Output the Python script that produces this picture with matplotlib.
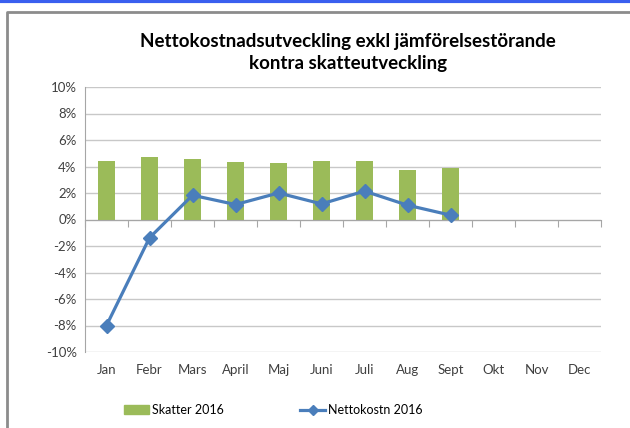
import matplotlib
matplotlib.use("Agg")
import matplotlib.pyplot as plt
from matplotlib.lines import Line2D
from matplotlib.patches import Patch
import matplotlib.transforms as mtransforms
import numpy as np

plt.rcParams['font.family'] = ['Lato', 'DejaVu Sans']

months = ['Jan', 'Febr', 'Mars', 'April', 'Maj', 'Juni', 'Juli', 'Aug', 'Sept', 'Okt', 'Nov', 'Dec']
skatter = [4.4, 4.68, 4.53, 4.33, 4.28, 4.4, 4.4, 3.7, 3.9]
nettokostn = [-8.0, -1.38, 1.83, 1.13, 2.0, 1.18, 2.14, 1.08, 0.33]
yticks = list(range(-10, 11, 2))

fig = plt.figure(figsize=(6.3, 4.28), dpi=100)

# outer frame like the screenshot
fig.add_artist(Line2D([0, 1], [0.997, 0.997], color='#3a5fef', lw=3, transform=fig.transFigure))
fig.add_artist(Line2D([6.5/630, 6.5/630, 1], [0, 1 - 11.5/428, 1 - 11.5/428],
                      color='#8c8c8c', lw=2, transform=fig.transFigure))

ax = fig.add_axes([85/630, 1 - 352/428, 516/630, 265/428])

x = np.arange(len(skatter))
ax.bar(x, skatter, width=0.4, color='#9bbb59', zorder=2)
ax.plot(np.arange(len(nettokostn)), nettokostn, color='#4a7ebb', lw=2.3,
        marker='D', markersize=7, zorder=3)

ax.set_xlim(-0.5, len(months) - 0.5)
ax.set_ylim(-10, 10)
ax.set_yticks(yticks)
ax.set_yticklabels([f'{v}%' for v in yticks], fontsize=9.5, color='#404040')
ax.tick_params(axis='y', length=0, pad=6)
ax.yaxis.grid(True, color='#c8c8c8', lw=1)
ax.set_axisbelow(True)

for s in ['top', 'right']:
    ax.spines[s].set_visible(False)
ax.spines['left'].set_color('#a6a6a6')
ax.spines['bottom'].set_position(('data', 0))
ax.spines['bottom'].set_color('#a6a6a6')

ax.set_xticks(np.arange(-0.5, len(months), 1.0))
ax.set_xticklabels([])
ax.tick_params(axis='x', direction='out', length=5, color='#a6a6a6')

trans = mtransforms.blended_transform_factory(ax.transData, fig.transFigure)
for i, m in enumerate(months):
    ax.text(i, 1 - 370/428, m, transform=trans, ha='center', va='center',
            fontsize=9.5, color='#404040')

fig.text(348/630, 1 - 42/428, 'Nettokostnadsutveckling exkl jämförelsestörande',
         ha='center', va='center', fontsize=13.5, fontweight='bold')
fig.text(348/630, 1 - 64/428, 'kontra skatteutveckling',
         ha='center', va='center', fontsize=13.5, fontweight='bold')

leg1 = fig.legend([Patch(color='#9bbb59')], ['Skatter 2016'], loc='center left',
                  bbox_to_anchor=(113/630, 1 - 410/428), frameon=False,
                  fontsize=9, handlelength=2.0, handletextpad=0.25)
leg2 = fig.legend([Line2D([], [], color='#4a7ebb', lw=2.3, marker='D', markersize=5)],
                  ['Nettokostn 2016'], loc='center left',
                  bbox_to_anchor=(289/630, 1 - 410/428), frameon=False,
                  fontsize=9, handlelength=2.0, handletextpad=0.25)

fig.savefig('out.png', dpi=100)
